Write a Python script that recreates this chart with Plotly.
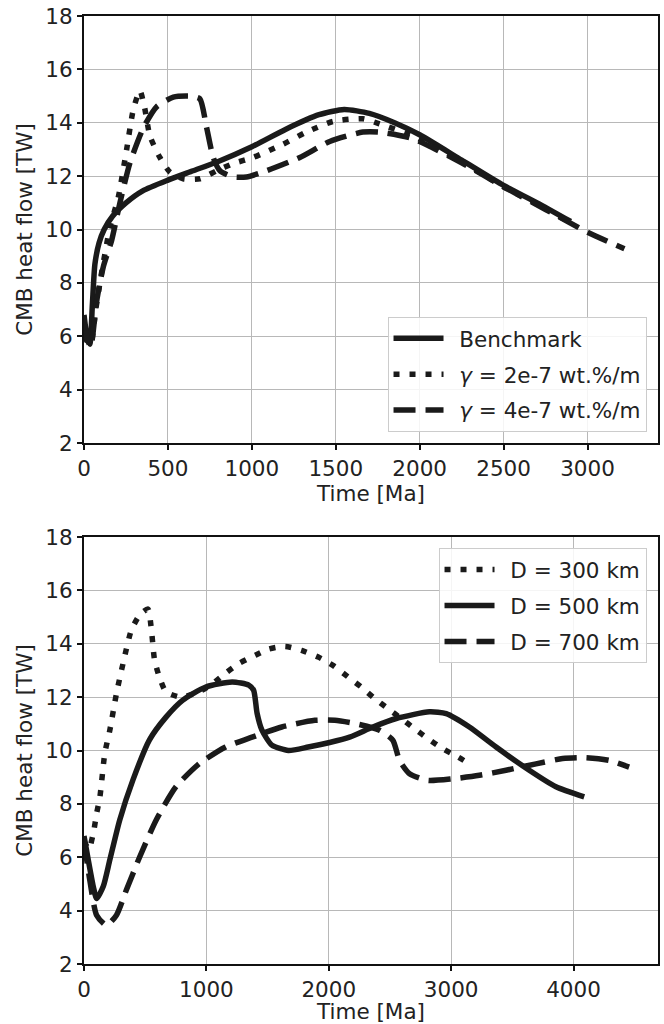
import plotly.graph_objects as go

# ---- Top panel data ----
top_bench_x = [0, 15, 35, 50, 65, 90, 120, 170, 250, 350, 500, 650, 800, 1000, 1200, 1400, 1550, 1700, 1850, 2000, 2250, 2500, 2700, 2900]
top_bench_y = [6.8, 6.1, 5.7, 7.2, 8.7, 9.5, 10.0, 10.5, 11.0, 11.45, 11.85, 12.2, 12.55, 13.1, 13.75, 14.3, 14.5, 14.35, 14.0, 13.55, 12.6, 11.65, 11.0, 10.3]

top_g2_x = [0, 20, 40, 70, 100, 155, 204, 254, 294, 333, 360, 393, 452, 512, 591, 690, 790, 889, 1008, 1187, 1325, 1484, 1661, 1760, 1960, 2250, 2500, 2700, 2900]
top_g2_y = [6.0, 5.8, 5.7, 7.0, 8.2, 10.1, 11.2, 13.0, 14.5, 15.2, 14.6, 13.5, 12.7, 12.15, 11.9, 11.9, 12.2, 12.47, 12.7, 13.2, 13.65, 14.05, 14.15, 13.96, 13.5, 12.55, 11.6, 10.95, 10.25]

top_g4_x = [0, 20, 40, 75, 115, 165, 214, 274, 353, 433, 532, 631, 690, 730, 770, 810, 889, 968, 1087, 1286, 1464, 1661, 1760, 1960, 2250, 2500, 2750, 3000, 3220]
top_g4_y = [6.5, 5.9, 5.6, 7.3, 8.6, 9.6, 11.0, 12.5, 13.8, 14.6, 14.96, 15.0, 14.9, 13.84, 12.7, 12.2, 11.97, 11.97, 12.2, 12.7, 13.3, 13.65, 13.65, 13.4, 12.5, 11.6, 10.75, 9.9, 9.28]

# ---- Bottom panel data ----
bot_d300_x = [0, 40, 80, 103, 130, 170, 211, 265, 319, 386, 454, 522, 549, 562, 576, 616, 670, 792, 940, 1049, 1157, 1265, 1400, 1508, 1643, 1778, 1914, 2034, 2156, 2265, 2374, 2483, 2592, 2700, 2809, 2931, 3054, 3149]
bot_d300_y = [6.6, 6.3, 7.0, 7.64, 8.26, 9.9, 10.76, 12.13, 13.26, 14.5, 15.07, 15.3, 14.6, 14.0, 13.4, 12.75, 12.2, 12.0, 12.2, 12.5, 12.9, 13.26, 13.57, 13.8, 13.9, 13.75, 13.5, 13.19, 12.76, 12.38, 11.95, 11.57, 11.2, 10.82, 10.45, 10.07, 9.76, 9.5]

bot_d500_x = [0, 35, 76, 103, 157, 211, 292, 400, 535, 670, 805, 995, 1211, 1346, 1386, 1414, 1454, 1535, 1670, 1832, 2007, 2170, 2360, 2551, 2823, 2959, 3149, 3367, 3638, 3856, 4087]
bot_d500_y = [6.8, 5.9, 4.9, 4.45, 4.9, 5.9, 7.4, 8.9, 10.4, 11.25, 11.88, 12.38, 12.57, 12.45, 12.26, 11.4, 10.76, 10.2, 10.0, 10.13, 10.3, 10.5, 10.88, 11.2, 11.45, 11.38, 10.88, 10.13, 9.26, 8.64, 8.26]

bot_d700_x = [0, 49, 103, 184, 265, 346, 454, 589, 751, 941, 1157, 1373, 1616, 1886, 2049, 2225, 2415, 2524, 2578, 2660, 2809, 3013, 3231, 3448, 3693, 3911, 4101, 4291, 4454]
bot_d700_y = [6.6, 5.1, 3.83, 3.45, 3.83, 4.77, 6.0, 7.39, 8.64, 9.5, 10.13, 10.5, 10.88, 11.13, 11.13, 11.0, 10.76, 10.38, 9.63, 9.13, 8.88, 8.94, 9.07, 9.26, 9.5, 9.7, 9.73, 9.63, 9.38]

top_names = ["Benchmark", "<i>γ</i> = 2e-7 wt.%/m", "<i>γ</i> = 4e-7 wt.%/m"]
bot_names = ["D = 300 km", "D = 500 km", "D = 700 km"]
y_ticks = [2, 4, 6, 8, 10, 12, 14, 16, 18]
top_x_ticks = [0, 500, 1000, 1500, 2000, 2500, 3000]
bot_x_ticks = [0, 1000, 2000, 3000, 4000]

LC = "#1a1a1a"
W = 5.5
SOLID = "solid"
DOT = "6px,10px"
DASH = "22px,10px"

fig = go.Figure()

def add(x, y, name, dash, xa, ya, legend):
    fig.add_trace(go.Scatter(
        x=x, y=y, name="\u2002" + name, mode="lines", xaxis=xa, yaxis=ya, legend=legend,
        legendgroup=name,
        line=dict(color=LC, width=W, dash=dash, shape="spline", smoothing=0.6),
    ))

add(top_bench_x, top_bench_y, top_names[0], SOLID, "x", "y", "legend")
add(top_g2_x, top_g2_y, top_names[1], DOT, "x", "y", "legend")
add(top_g4_x, top_g4_y, top_names[2], DASH, "x", "y", "legend")

add(bot_d300_x, bot_d300_y, bot_names[0], DOT, "x2", "y2", "legend2")
add(bot_d500_x, bot_d500_y, bot_names[1], SOLID, "x2", "y2", "legend2")
add(bot_d700_x, bot_d700_y, bot_names[2], DASH, "x2", "y2", "legend2")

FONT = dict(family="DejaVu Sans", size=21.5, color="#222222")

axis_common = dict(
    showline=True, linecolor="#111111", linewidth=2, mirror=True,
    showgrid=True, gridcolor="#b8b8b8", gridwidth=1.3,
    ticks="outside", ticklen=5, tickwidth=1.5, tickcolor="#111111",
    zeroline=False, tickfont=FONT, automargin=False,
)

top_frac = 427 / 948

fig.update_layout(
    width=664, height=1024,
    margin=dict(l=84, r=6, t=16, b=60),
    paper_bgcolor="white", plot_bgcolor="white",
    font=FONT,
    showlegend=True,
    xaxis=dict(axis_common, domain=[0, 1], anchor="y", range=[0, 3420],
               tickvals=top_x_ticks, title=dict(text="Time [Ma]", font=FONT, standoff=0)),
    yaxis=dict(axis_common, domain=[1 - top_frac, 1], anchor="x", range=[2, 18],
               tickvals=y_ticks, title=dict(text="CMB heat flow [TW]", font=FONT, standoff=7)),
    xaxis2=dict(axis_common, domain=[0, 1], anchor="y2", range=[0, 4690],
                tickvals=bot_x_ticks, title=dict(text="Time [Ma]", font=FONT, standoff=0)),
    yaxis2=dict(axis_common, domain=[0, top_frac], anchor="x2", range=[2, 18],
                tickvals=y_ticks, title=dict(text="CMB heat flow [TW]", font=FONT, standoff=7)),
    legend=dict(x=0.98, y=(964 - 431.7) / 948, xanchor="right", yanchor="bottom",
                bgcolor="rgba(255,255,255,0.85)", bordercolor="#cccccc", borderwidth=1,
                font=FONT, itemwidth=50, tracegroupgap=5),
    legend2=dict(x=0.98, y=(964 - 548) / 948, xanchor="right", yanchor="top",
                 bgcolor="rgba(255,255,255,0.85)", bordercolor="#cccccc", borderwidth=1,
                 font=FONT, itemwidth=50, tracegroupgap=5),
)

fig.write_html("out.html", config={"displayModeBar": False},
               post_script="document.body.style.margin='0';document.body.style.padding='0';")
